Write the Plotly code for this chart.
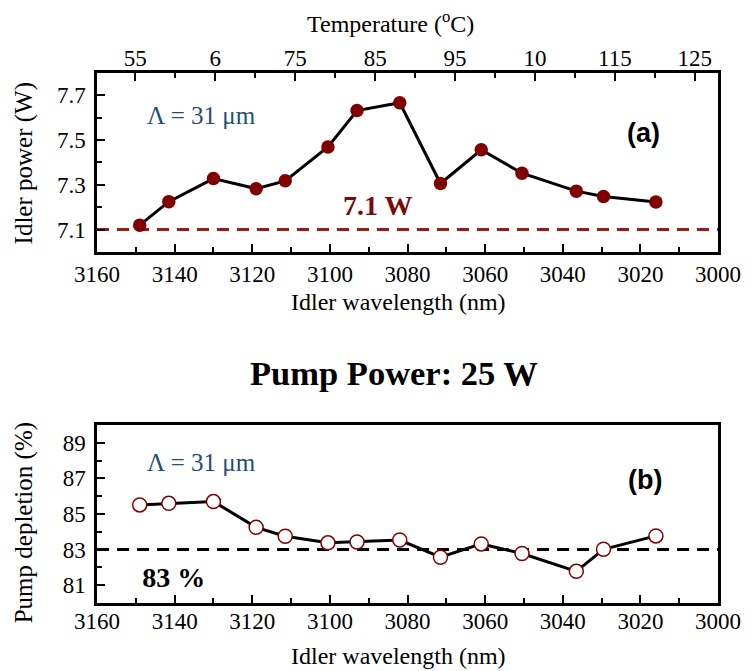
import plotly.graph_objects as go

# ---------------- data ----------------
wavelength_nm = [3149, 3141.5, 3130, 3119, 3111.5, 3100.5, 3093, 3082,
                 3071.5, 3061, 3050.5, 3036.5, 3029.5, 3016]
idler_power_W = [7.12, 7.225, 7.328, 7.283, 7.318, 7.469, 7.632, 7.667,
                 7.306, 7.457, 7.352, 7.272, 7.248, 7.223]
pump_depletion_pct = [85.51, 85.60, 85.70, 84.25, 83.75, 83.38, 83.43, 83.54,
                      82.57, 83.32, 82.78, 81.78, 83.02, 83.77]
power_threshold_W = 7.1
depletion_threshold_pct = 83

wl_ticks = [3160, 3140, 3120, 3100, 3080, 3060, 3040, 3020, 3000]
power_ticks = [7.1, 7.3, 7.5, 7.7]
depletion_ticks = [81, 83, 85, 87, 89]
temp_ticks_C = [55, 65, 75, 85, 95, 105, 115, 125]
temp_tick_labels = ["55", "6", "75", "85", "95", "10", "115", "125"]

# ---------------- style ----------------
SERIF = "Times New Roman, Liberation Serif, serif"
SANS = "Arial, Liberation Sans, sans-serif"
DARKRED = "#800000"
BLUE = "#1f4e79"
TICKF = dict(family=SERIF, size=23, color="black")

fig = go.Figure()

fig.add_trace(go.Scatter(
    x=wavelength_nm, y=idler_power_W, xaxis="x", yaxis="y",
    mode="lines+markers",
    line=dict(color="black", width=3),
    marker=dict(color=DARKRED, size=13.5, line=dict(width=0)),
    showlegend=False, hoverinfo="skip"))

# empty trace so the top temperature axis is drawn
fig.add_trace(go.Scatter(x=[], y=[], xaxis="x2", yaxis="y",
                         showlegend=False, hoverinfo="skip"))

fig.add_trace(go.Scatter(
    x=wavelength_nm, y=pump_depletion_pct, xaxis="x3", yaxis="y3",
    mode="lines+markers",
    line=dict(color="black", width=3),
    marker=dict(color="white", size=14, line=dict(color=DARKRED, width=1.5)),
    showlegend=False, hoverinfo="skip"))

# "83 %" label, clipped at the bottom like in the original
fig.add_trace(go.Scatter(
    x=[0.45], y=[0.21], xaxis="x4", yaxis="y4", mode="text",
    text=["<b>83 %</b>"], textposition="middle center",
    textfont=dict(family=SERIF, size=28, color="black"),
    cliponaxis=True, showlegend=False, hoverinfo="skip"))

common_x = dict(
    range=[3160, 3000], tickvals=wl_ticks, ticks="inside", ticklen=8,
    tickwidth=2, tickcolor="black",
    minor=dict(dtick=10, ticks="inside", ticklen=5, tickwidth=2, tickcolor="black"),
    showline=True, linewidth=2.5, linecolor="black", mirror=True,
    showgrid=False, zeroline=False, tickfont=TICKF)

common_y = dict(
    ticks="inside", ticklen=8, tickwidth=2, tickcolor="black",
    showline=True, linewidth=2.5, linecolor="black", mirror=True,
    showgrid=False, zeroline=False, tickfont=TICKF, ticklabelstandoff=4)

fig.update_layout(
    width=753, height=671,
    margin=dict(l=97, r=25, t=73, b=68),
    paper_bgcolor="white", plot_bgcolor="white",
    xaxis=dict(domain=[0, 1], anchor="y", ticklabelstandoff=0, **common_x),
    yaxis=dict(domain=[0.6623, 1], range=[7.0, 7.8], tickvals=power_ticks,
               minor=dict(dtick=0.1, tick0=7.0, ticks="inside", ticklen=5,
                          tickwidth=2, tickcolor="black"),
               **common_y),
    xaxis2=dict(overlaying="x", side="top", anchor="y", range=[50.2, 127.9],
                tickvals=temp_ticks_C, ticktext=temp_tick_labels,
                ticks="inside", ticklen=8, tickwidth=2, tickcolor="black",
                minor=dict(dtick=5, tick0=55, ticks="inside", ticklen=5,
                           tickwidth=2, tickcolor="black"),
                showline=True, linewidth=2.5, linecolor="black",
                showgrid=False, zeroline=False, tickfont=TICKF,
                ticklabelstandoff=-5),
    xaxis3=dict(domain=[0, 1], anchor="y3", ticklabelstandoff=-4, **common_x),
    yaxis3=dict(domain=[0, 0.3358], range=[80, 90], tickvals=depletion_ticks,
                minor=dict(dtick=1, tick0=80, ticks="inside", ticklen=5,
                           tickwidth=2, tickcolor="black"),
                **common_y),
    xaxis4=dict(domain=[0.052, 0.211], anchor="y4", range=[0, 1], visible=False),
    yaxis4=dict(domain=[0.0302, 0.095], anchor="x4", range=[0, 1], visible=False),
)

# threshold dashed lines
fig.add_shape(type="line", xref="x domain", yref="y", x0=0, x1=1,
              y0=power_threshold_W, y1=power_threshold_W,
              line=dict(color="#9b1b1b", width=3, dash="12px,8px"), layer="below")
fig.add_shape(type="line", xref="x3 domain", yref="y3", x0=0, x1=1,
              y0=depletion_threshold_pct, y1=depletion_threshold_pct,
              line=dict(color="black", width=3, dash="12px,8px"), layer="below")

ann = [
    dict(text="Temperature (<sup>o</sup>C)", x=0.472, y=1.096, xref="paper", yref="paper",
         font=dict(family=SERIF, size=24, color="black")),
    dict(text="Idler wavelength (nm)", x=0.485, y=0.568, xref="paper", yref="paper",
         font=dict(family=SERIF, size=24, color="black")),
    dict(text="Idler wavelength (nm)", x=0.485, y=-0.100, xref="paper", yref="paper",
         font=dict(family=SERIF, size=24, color="black")),
    dict(text="Idler power (W)", x=-0.117, y=0.830, xref="paper", yref="paper",
         textangle=-90, font=dict(family=SERIF, size=25, color="black")),
    dict(text="Pump depletion (%)", x=-0.117, y=0.151, xref="paper", yref="paper",
         textangle=-90, font=dict(family=SERIF, size=25, color="black")),
    dict(text="<b>Pump Power: 25 W</b>", x=0.478, y=0.434, xref="paper", yref="paper",
         font=dict(family=SERIF, size=34.5, color="black")),
    dict(text="Λ = 31 μm", x=0.168, y=0.765, xref="x domain", yref="y domain",
         font=dict(family=SERIF, size=25, color=BLUE)),
    dict(text="Λ = 31 μm", x=0.168, y=0.787, xref="x3 domain", yref="y3 domain",
         font=dict(family=SERIF, size=25, color=BLUE)),
    dict(text="<b>(a)</b>", x=0.880, y=0.665, xref="x domain", yref="y domain",
         font=dict(family=SANS, size=27, color="black")),
    dict(text="<b>(b)</b>", x=0.883, y=0.691, xref="x3 domain", yref="y3 domain",
         font=dict(family=SANS, size=27, color="black")),
    dict(text="<b>7.1 W</b>", x=0.452, y=0.257, xref="x domain", yref="y domain",
         font=dict(family=SERIF, size=28, color="#7b0a0a")),
]
for a in ann:
    a.update(showarrow=False, xanchor="center", yanchor="middle")
    fig.add_annotation(**a)

fig.write_html("out.html")
